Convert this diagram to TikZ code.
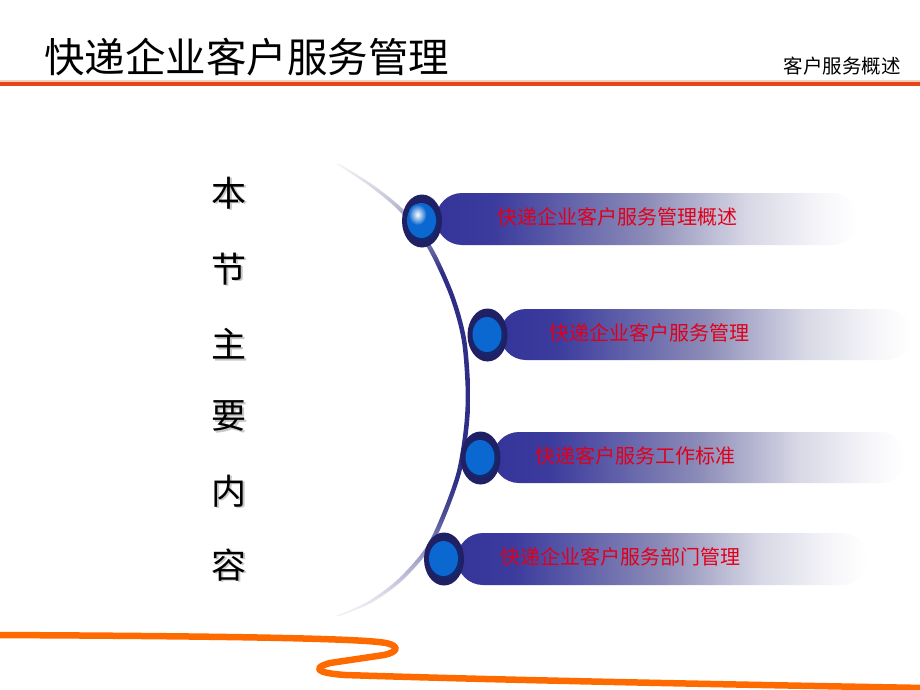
\documentclass[tikz,border=0pt]{standalone}
\usepackage{fontspec}
\newfontfamily\cjk{Noto Sans CJK SC}
\definecolor{hdr}{HTML}{E4461C}
\definecolor{hdrlight}{HTML}{F6CDB8}
\definecolor{wave}{HTML}{FF6A00}
\definecolor{barL}{HTML}{34349A}
\definecolor{barLL}{HTML}{3C3C9E}
\definecolor{barM}{HTML}{8C8CB8}
\definecolor{barN}{HTML}{D8D8E6}
\definecolor{barE}{HTML}{F7F7FA}
\definecolor{arcD}{HTML}{2E2E86}
\definecolor{arcA}{HTML}{F2F2F7}
\definecolor{arcB}{HTML}{E2E2EC}
\definecolor{arcC}{HTML}{A8A8CC}
\definecolor{arcE}{HTML}{505098}
\definecolor{arcF}{HTML}{8484B4}
\definecolor{arcG}{HTML}{CCCCDE}
\definecolor{bulOut}{HTML}{202064}
\definecolor{bulRim}{HTML}{14286E}
\definecolor{bulBlue}{HTML}{0A68D0}
\definecolor{txtred}{HTML}{E0001C}
\pgfdeclarehorizontalshading{barshade}{100bp}{color(0bp)=(barL); color(25bp)=(barL); color(32bp)=(barLL); color(50bp)=(barM); color(62bp)=(barN); color(71bp)=(barE); color(75bp)=(white); color(100bp)=(white)}
\pgfdeclareverticalshading{arcshade}{100bp}{color(0bp)=(arcA); color(25bp)=(arcA); color(27bp)=(arcB); color(31bp)=(arcC); color(36bp)=(arcE); color(40bp)=(arcD); color(63bp)=(arcD); color(67bp)=(arcF); color(71.5bp)=(arcG); color(75bp)=(arcA); color(100bp)=(arcA)}
\tikzset{
  bartab/.style={shading=barshade, rounded corners=26pt},
  bartext/.style={anchor=west, inner sep=0pt, text=txtred, font=\cjk\fontsize{20}{20}\selectfont},
  vchar/.style={inner sep=0pt, font=\cjk\fontsize{35}{36}\selectfont},
  vshadow/.style={inner sep=0pt, text=black!22, font=\cjk\fontsize{35}{36}\selectfont},
}
\newcommand{\bulletmark}[1]{%
  \fill[bulOut] (#1) ellipse [x radius=20, y radius=26.5];
  \fill[bulRim] ($(#1)+(1,1.5)$) ellipse [x radius=15.5, y radius=18.5];
  \fill[bulBlue] ($(#1)+(-0.5,-0.5)$) ellipse [x radius=14.5, y radius=17.5];
}
\usetikzlibrary{calc}
\begin{document}
\begin{tikzpicture}[x=1pt, y=-1pt]
\useasboundingbox (0,0) rectangle (920,690);
\fill[white] (0,0) rectangle (920,690);
% header
\node[anchor=west, inner sep=0pt, font=\cjk\fontsize{40.5}{41}\selectfont] (title) at (44,57) {快递企业客户服务管理};
\node[anchor=east, inner sep=0pt, font=\cjk\fontsize{19.5}{20}\selectfont] (sub) at (901,66) {客户服务概述};
\fill[hdrlight] (0,80.5) rectangle (920,82.5);
\fill[hdr] (0,82.5) rectangle (920,86.5);
% arc
\shade[shading=arcshade] plot[smooth] coordinates {(339.5,164) (374.5,186) (405.8,212) (432.6,248) (454.4,296) (466.3,340) (470.3,392) (468.3,430) (461.3,472) (447.4,512) (430.6,548) (402.8,580) (372.8,602) (340,616)}
  -- plot[smooth] coordinates {(336,616) (367.2,602) (397.2,580) (425.4,548) (442.6,512) (456.7,472) (463.7,430) (465.7,392) (461.7,340) (449.6,296) (427.4,248) (400.2,212) (369.5,186) (336.5,164)} -- cycle;
% bullet centres
\coordinate (b1) at (422,221);
\coordinate (b2) at (487.5,335);
\coordinate (b3) at (480.5,458);
\coordinate (b4) at (444,559);
% bars
\path[bartab] (436,193) rectangle (858,245);
\path[bartab] (500,309) rectangle (912,360);
\path[bartab] (493,432) rectangle (906,483);
\path[bartab] (457,533) rectangle (868,585);
% bullets
\bulletmark{b1}
\shade[inner color=white, outer color=bulBlue] ($(b1)+(-4.5,-6.5)$) ellipse [x radius=9, y radius=10.5];
\bulletmark{b2}
\bulletmark{b3}
\bulletmark{b4}
% bar texts
\node[bartext] (t1) at (497,217) {快递企业客户服务管理概述};
\node[bartext] (t2) at (549,333) {快递企业客户服务管理};
\node[bartext] (t3) at (535,456) {快递客户服务工作标准};
\node[bartext] (t4) at (500,557) {快递企业客户服务部门管理};
% vertical heading
\foreach \c/\y [count=\i] in {本/193, 节/269, 主/344, 要/416, 内/491, 容/565}{
  \node[vshadow] (s\i) at (230.5,\y+1.5) {\c};
  \node[vchar] (v\i) at (229,\y) {\c};
}
% orange wave
\draw[wave, line width=6.5pt, line cap=round, line join=round]
  (-5,635) .. controls (200,636) and (360,638) .. (386,643)
  .. controls (400,646) and (398,652) .. (384,655)
  -- (330,663) .. controls (312,668) and (316,673) .. (345,675)
  .. controls (500,680) and (700,684) .. (925,688);
\end{tikzpicture}
\end{document}
